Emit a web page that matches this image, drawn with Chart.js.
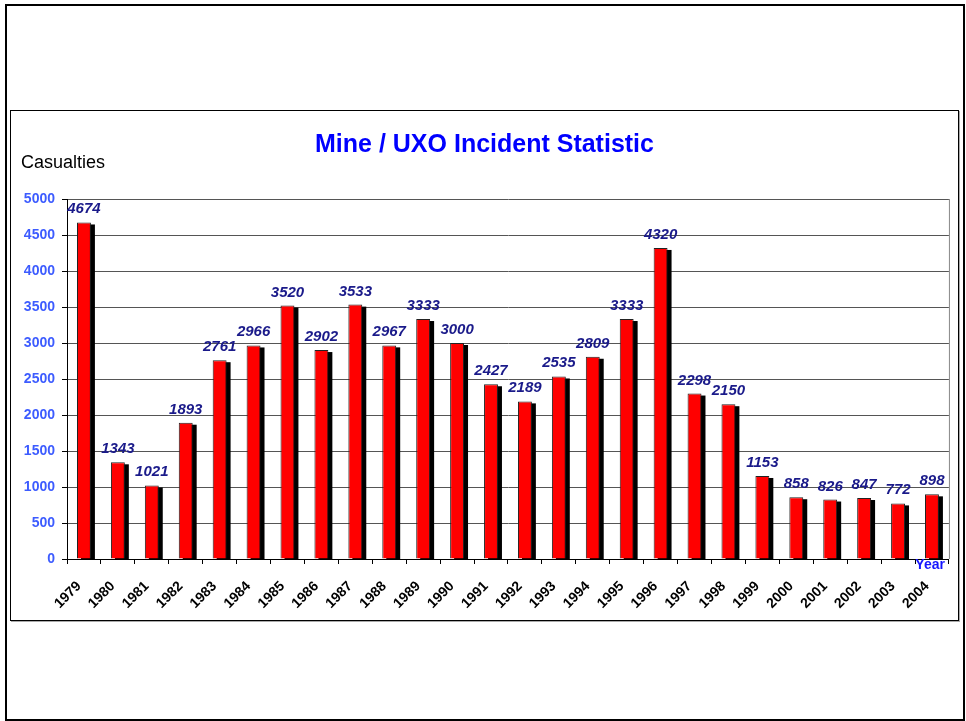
<!DOCTYPE html>
<html>
<head>
<meta charset="utf-8">
<title>Mine / UXO Incident Statistic</title>
<script src="https://cdn.jsdelivr.net/npm/chart.js@4.4.1/dist/chart.umd.min.js"></script>
<style>
  html, body { margin:0; padding:0; background:#fff; }
  body { width:966px; height:721px; position:relative; overflow:hidden; font-family:Arial, "Liberation Sans", sans-serif; }
  #page { position:absolute; left:5px; top:4px; width:956px; height:713px; border:2px solid #000; }
  #frame { position:absolute; left:10px; top:110px; width:947px; height:509px; border:1px solid #000; box-shadow:1px 1px 0 #aaa; }
  #chart { display:block; }
</style>
</head>
<body>
<div id="page"></div>
<div id="frame"><canvas id="chart" width="947" height="509"></canvas></div>
<script>
// --- DATA ---
const years = ['1979','1980','1981','1982','1983','1984','1985','1986','1987','1988','1989','1990','1991',
  '1992','1993','1994','1995','1996','1997','1998','1999','2000','2001','2002','2003','2004'];
const casualties = [4674,1343,1021,1893,2761,2966,3520,2902,3533,2967,3333,3000,2427,
  2189,2535,2809,3333,4320,2298,2150,1153,858,826,847,772,898];
const yTicks = [0,500,1000,1500,2000,2500,3000,3500,4000,4500,5000];

const chartTitle = 'Mine / UXO Incident Statistic';
const yLabel = 'Casualties';
const xLabel = 'Year';

// --- PLUGINS ---
// black drop shadow behind the red bars (drawn from the bar elements)
const barShadow = {
  id:'barShadow',
  beforeDatasetsDraw(chart){
    const c = chart.ctx;
    const a = chart.chartArea;
    const meta = chart.getDatasetMeta(0);
    c.save();
    c.beginPath();
    c.rect(a.left, a.top, a.right - a.left, a.bottom - a.top);
    c.clip();
    c.fillStyle = '#000';
    meta.data.forEach(bar=>{
      const {x, y, base, width} = bar.getProps(['x','y','base','width'], true);
      c.fillRect(x - width/2 + 4, y + 2, width, base - y);
    });
    c.restore();
  }
};

// value labels above each bar
const valueLabels = {
  id:'valueLabels',
  afterDatasetsDraw(chart){
    const c = chart.ctx;
    const meta = chart.getDatasetMeta(0);
    c.save();
    c.font = 'italic bold 15px Arial, "Liberation Sans"';
    c.fillStyle = '#1a1a8a';
    c.textAlign = 'center';
    c.textBaseline = 'alphabetic';
    meta.data.forEach((bar, i)=>{
      c.fillText(String(chart.data.datasets[0].data[i]), bar.x, bar.y - 9);
    });
    c.restore();
  }
};

// title, axis captions and the grey right edge of the plot
const extras = {
  id:'extras',
  afterDraw(chart){
    const c = chart.ctx;
    const a = chart.chartArea;
    c.save();
    c.strokeStyle = '#888';
    c.lineWidth = 1;
    c.beginPath();
    c.moveTo(a.right + 0.5, a.top);
    c.lineTo(a.right + 0.5, a.bottom);
    c.stroke();

    c.font = 'bold 25px Arial, "Liberation Sans"';
    c.fillStyle = '#0000ff';
    c.textAlign = 'center';
    c.textBaseline = 'alphabetic';
    c.fillText(chartTitle, chart.width/2, 41);

    c.font = '18px Arial, "Liberation Sans"';
    c.fillStyle = '#000';
    c.textAlign = 'left';
    c.fillText(yLabel, 10, 57);

    c.font = 'bold 14px Arial, "Liberation Sans"';
    c.fillStyle = '#1515ff';
    c.textAlign = 'right';
    c.fillText(xLabel, a.right - 4, a.bottom + 10);
    c.restore();
  }
};

// --- CHART ---
const ctx = document.getElementById('chart').getContext('2d');
const chart = new Chart(ctx, {
  type:'bar',
  data:{
    labels: years,
    datasets:[{
      label: yLabel,
      data: casualties,
      backgroundColor:'#ff0000',
      borderColor:'#222',
      borderWidth:1,
      categoryPercentage:1,
      barPercentage:0.41
    }]
  },
  options:{
    responsive:false,
    animation:false,
    layout:{ padding:{ left:0, right:8, top:88, bottom:0 } },
    plugins:{
      legend:{ display:false },
      title:{ display:false },
      tooltip:{ enabled:false }
    },
    scales:{
      x:{
        grid:{ offset:true, drawOnChartArea:false, color:'#000', tickLength:5 },
        border:{ color:'#000', width:1 },
        ticks:{
          color:'#000',
          font:{ family:'Arial, "Liberation Sans"', size:14, weight:'bold' },
          maxRotation:45, minRotation:45, autoSkip:false, padding:14, labelOffset:-5
        },
        afterFit(scale){ scale.height = 61; }
      },
      y:{
        min:0, max:5000,
        grid:{ color:'#555', tickColor:'#000', tickLength:5 },
        border:{ color:'#000', width:1 },
        afterBuildTicks(scale){ scale.ticks = yTicks.map(v=>({value:v})); },
        ticks:{
          color:'#3d5cff',
          font:{ family:'Arial, "Liberation Sans"', size:14, weight:'bold' },
          padding:7,
          callback:(v)=>String(v)
        },
        afterFit(scale){ scale.width = 56; }
      }
    }
  },
  plugins:[barShadow, valueLabels, extras]
});
</script>
</body>
</html>
